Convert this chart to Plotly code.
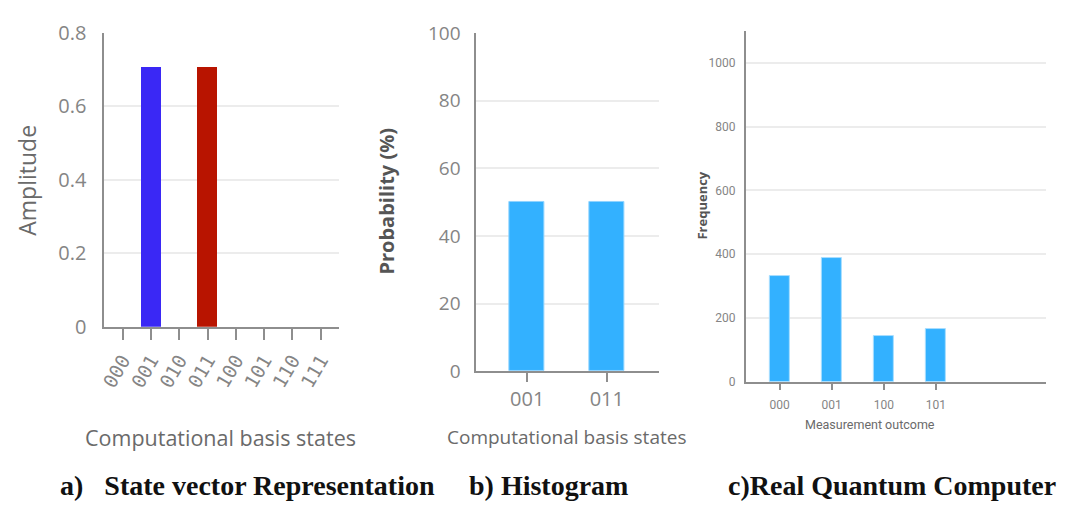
import plotly.graph_objects as go

# ---- data ----
basis_states = ["000", "001", "010", "011", "100", "101", "110", "111"]
amplitudes = [0, 0.707, 0, 0.707, 0, 0, 0, 0]
amp_colors = ["#3a28f5", "#3a28f5", "#3a28f5", "#b81400", "#3a28f5", "#3a28f5", "#3a28f5", "#3a28f5"]

hist_states = ["001", "011"]
hist_prob = [50, 50]

outcomes = ["000", "001", "100", "101"]
frequency = [333, 389, 144, 165]

captions = ["a)   State vector Representation", "b) Histogram", "c)Real Quantum Computer"]

W, H = 1075, 517


def fx(px):
    return px / W


def fy(py):
    return 1 - py / H


GRID = "#ececec"
AXIS = "#8e8e8e"
TICKTXT = "#858585"
SANS = "Open Sans, Roboto, sans-serif"
CYAN = "#33b1ff"

fig = go.Figure()

# a) state vector amplitudes
fig.add_trace(go.Bar(
    x=list(range(len(basis_states))), y=amplitudes,
    marker=dict(color=amp_colors, line=dict(width=0)),
    width=0.7, xaxis="x", yaxis="y", showlegend=False,
))

# b) probability histogram
fig.add_trace(go.Bar(
    x=list(range(len(hist_states))), y=hist_prob,
    marker=dict(color=CYAN, line=dict(color="#8fd3ff", width=1)),
    width=0.44, xaxis="x2", yaxis="y2", showlegend=False,
))

# c) counts from hardware run
fig.add_trace(go.Bar(
    x=list(range(len(outcomes))), y=frequency,
    marker=dict(color=CYAN, line=dict(color="#a8deff", width=1)),
    width=0.38, xaxis="x3", yaxis="y3", showlegend=False,
))

common_y = dict(showgrid=True, gridcolor=GRID, gridwidth=1.5, zeroline=False,
                showline=True, linecolor=AXIS, linewidth=2, ticks="")
common_x = dict(showgrid=False, zeroline=False, showline=True, linecolor=AXIS,
                linewidth=2, ticks="outside", tickcolor=AXIS, tickwidth=2)

fig.update_layout(
    width=W, height=H, margin=dict(l=0, r=0, t=0, b=0),
    paper_bgcolor="white", plot_bgcolor="white", bargap=0,
    xaxis=dict(domain=[fx(99), fx(335)], anchor="y", range=[-0.65, 7.65],
               tickmode="array", tickvals=list(range(8)), ticktext=basis_states,
               tickangle=-60, ticklen=11, ticklabelstandoff=2,
               tickfont=dict(family="DejaVu Sans Mono", size=19, color=TICKTXT),
               **common_x),
    yaxis=dict(domain=[fy(330), fy(20)], anchor="x", range=[0, 0.8],
               tickvals=[0, 0.2, 0.4, 0.6, 0.8], ticktext=["0", "0.2", "0.4", "0.6", "0.8"],
               ticklabelstandoff=12,
               tickfont=dict(family=SANS, size=20, color=TICKTXT), **common_y),
    xaxis2=dict(domain=[fx(473), fx(657)], anchor="y2", range=[-0.64, 1.66],
                tickmode="array", tickvals=[0, 1], ticktext=hist_states, ticklen=9,
                tickfont=dict(family=SANS, size=20, color=TICKTXT), **common_x),
    yaxis2=dict(domain=[fy(377), fy(20)], anchor="x2", range=[0, 100],
                tickvals=[0, 20, 40, 60, 80, 100], ticklabelstandoff=10,
                tickfont=dict(family=SANS, size=19, color=TICKTXT), **common_y),
    xaxis3=dict(domain=[fx(744), fx(1046)], anchor="y3", range=[-0.65, 5.12],
                tickmode="array", tickvals=[0, 1, 2, 3], ticktext=outcomes, ticklen=6,
                ticklabelstandoff=5,
                tickfont=dict(family="Roboto", size=12, color=TICKTXT), **common_x),
    yaxis3=dict(domain=[fy(388), fy(18)], anchor="x3", range=[0, 1100],
                tickvals=[0, 200, 400, 600, 800, 1000], ticklabelstandoff=6,
                tickfont=dict(family="Roboto", size=12, color=TICKTXT), **common_y),
)

TITLE = "#6a6a6a"
annotations = [
    dict(text="Amplitude", x=fx(21), y=fy(175), textangle=-90,
         font=dict(family=SANS, size=23, color=TITLE)),
    dict(text="Computational basis states", x=fx(216), y=fy(447),
         font=dict(family=SANS, size=21.5, color=TITLE)),
    dict(text="<b>Probability (%)</b>", x=fx(383), y=fy(197), textangle=-90,
         font=dict(family=SANS, size=20, color="#555555")),
    dict(text="Computational basis states", x=fx(564), y=fy(446),
         font=dict(family=SANS, size=19, color=TITLE)),
    dict(text="<b>Frequency</b>", x=fx(700), y=fy(202), textangle=-90,
         font=dict(family=SANS, size=13, color="#555555")),
    dict(text="Measurement outcome", x=fx(869), y=fy(433),
         font=dict(family="Roboto", size=12.5, color=TITLE)),
]
cap_x = [fx(52), fx(464), fx(724)]
for cx, txt in zip(cap_x, captions):
    annotations.append(dict(text=f"<b>{txt}</b>", x=cx, y=fy(498), xanchor="left",
                            font=dict(family="Liberation Serif", size=28, color="#111111")))
for a in annotations:
    a.update(xref="paper", yref="paper", showarrow=False)
    a.setdefault("xanchor", "center")
    a.setdefault("yanchor", "middle")
fig.update_layout(annotations=annotations)

fig.write_html("out.html")
